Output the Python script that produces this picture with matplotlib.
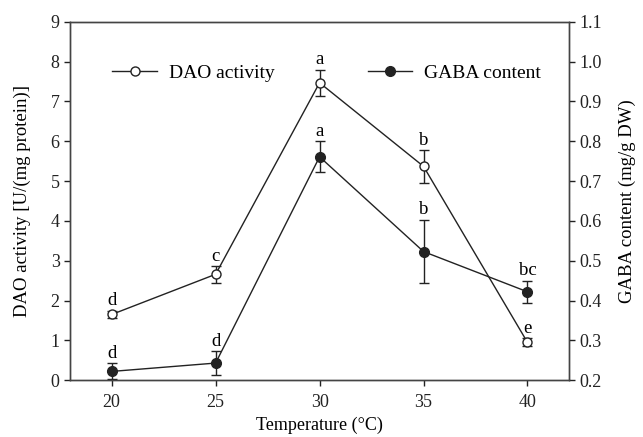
import matplotlib
matplotlib.use("Agg")
import matplotlib.pyplot as plt
from matplotlib.lines import Line2D

plt.rcParams['font.family'] = ['Liberation Serif', 'DejaVu Serif']
plt.rcParams['mathtext.fontset'] = 'stix'

temps = [20, 25, 30, 35, 40]
dao = [1.65, 2.66, 7.47, 5.37, 0.95]
dao_err = [0.10, 0.21, 0.33, 0.41, 0.10]
dao_letters = ['d', 'c', 'a', 'b', 'e']
gaba = [0.222, 0.243, 0.761, 0.523, 0.422]
gaba_err = [0.02, 0.03, 0.039, 0.08, 0.028]
gaba_letters = ['d', 'd', 'a', 'b', 'bc']

fig = plt.figure(figsize=(6.43, 4.37), dpi=100)
ax = fig.add_axes([0.109, 0.130, 0.776, 0.820])
ax2 = ax.twinx()

lc = '#222222'
ax.errorbar(temps, dao, yerr=dao_err, fmt='none', ecolor=lc, elinewidth=1.0,
            capsize=3.6, capthick=1.0, zorder=2)
ax.plot(temps, dao, '-o', color=lc, lw=1.0, markerfacecolor='white',
        markeredgecolor=lc, markersize=6.5, markeredgewidth=1.0, zorder=3)
ax2.errorbar(temps, gaba, yerr=gaba_err, fmt='none', ecolor=lc, elinewidth=1.0,
             capsize=3.6, capthick=1.0, zorder=2)
ax2.plot(temps, gaba, '-o', color=lc, lw=1.0, markerfacecolor=lc,
         markeredgecolor=lc, markersize=7, zorder=3)

fs = 13
for x, y, e, t in zip(temps, dao, dao_err, dao_letters):
    ax.annotate(t, (x, y + e), xytext=(0, 1), textcoords='offset points',
                ha='center', va='bottom', fontsize=fs + 0.5)
for x, y, e, t in zip(temps, gaba, gaba_err, gaba_letters):
    ax2.annotate(t, (x, y + e), xytext=(0, 1), textcoords='offset points',
                 ha='center', va='bottom', fontsize=fs + 0.5)

ax.set_xlim(18, 42)
ax.set_ylim(0, 9)
ax2.set_ylim(0.2, 1.1)
ax.set_xticks(temps)
ax.set_yticks(range(0, 10))
ax2.set_yticks([0.2 + 0.1 * i for i in range(10)])
ax2.set_yticklabels([f"{0.2 + 0.1 * i:.1f}" for i in range(10)])

for a in (ax, ax2):
    a.tick_params(direction='out', length=4, width=1.0, labelsize=fs, colors='#222222')
    for s in a.spines.values():
        s.set_linewidth(1.0)
        s.set_color('#444444')
ax.tick_params(axis='x', top=False, pad=6)

ax.set_xlabel('Temperature (°C)', fontsize=fs, labelpad=4)
ax.set_ylabel('DAO activity [U/(mg protein)]', fontsize=fs + 0.5, labelpad=14)
ax2.set_ylabel('GABA content (mg/g DW)', fontsize=fs + 0.5, labelpad=12)

h1 = Line2D([], [], color=lc, lw=1.0, marker='o', markerfacecolor='white',
            markeredgecolor=lc, markersize=6.5)
h2 = Line2D([], [], color=lc, lw=1.0, marker='o', markerfacecolor=lc,
            markeredgecolor=lc, markersize=7)
ax2.legend([h1, h2], ['DAO activity', 'GABA content'], ncol=2, frameon=False,
           loc='center', bbox_to_anchor=(0.514, 0.858), fontsize=14,
           handlelength=2.3, handletextpad=0.6, columnspacing=4.8)

fig.savefig('out.png', dpi=100)
